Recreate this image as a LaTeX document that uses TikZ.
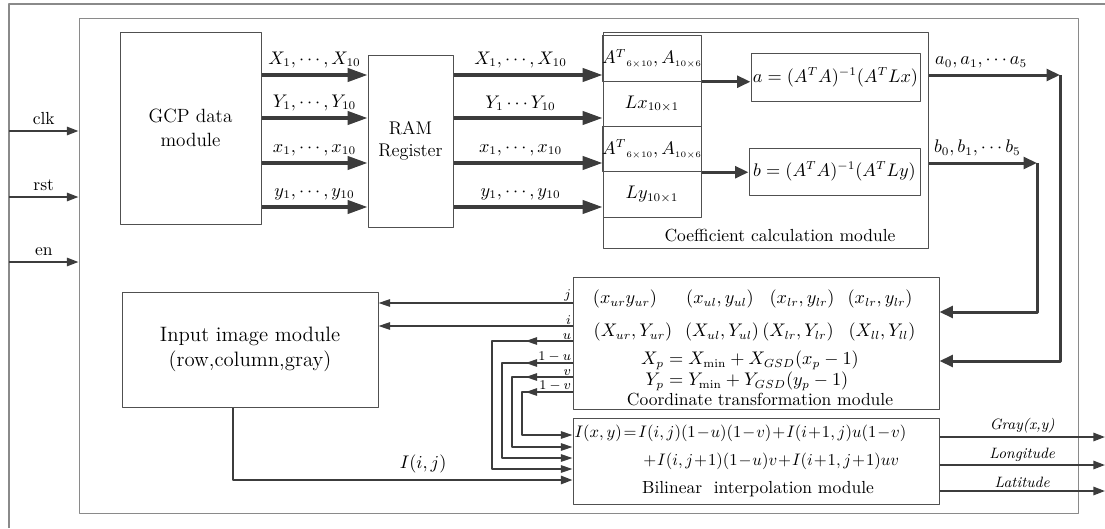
\documentclass[tikz,border=0pt]{standalone}
\usetikzlibrary{arrows.meta}
\definecolor{lc}{HTML}{3C3C3C}
\definecolor{bc}{HTML}{505050}
\definecolor{fc}{HTML}{8A8A8A}
\newcommand{\pxu}{0.6pt}
\newcommand{\tightmath}{\medmuskip=1mu\thickmuskip=2mu}

\begin{document}
\begin{tikzpicture}[x=0.6pt, y=-0.6pt, font=\fontsize{10.5}{12.5}\selectfont, line join=round,
	box/.style={draw=bc, line width=0.6pt, inner sep=0pt, align=center},
	bus/.style={draw=lc, line width=2pt, -{Triangle[length=12pt,width=8pt]}},
	busb/.style={draw=lc, line width=1.8pt, -{Triangle[length=8pt,width=7pt]}},
	sig/.style={draw=lc, line width=1.2pt, -{Triangle[length=7pt,width=5pt]}},
	wire/.style={draw=lc, line width=0.9pt, -{Triangle[length=7pt,width=4.5pt]}},
	thinwire/.style={draw=lc, line width=0.7pt, -{Triangle[length=7pt,width=4.5pt]}},
	lab/.style={inner sep=0.5pt, font=\fontsize{8.5}{9}\selectfont},
	outlab/.style={inner sep=1.5pt, font=\fontsize{9}{10}\selectfont}]
			\useasboundingbox (0,0) rectangle (1105,528);
			
			\draw[fc, line width=0.8pt] (9,528) |- (1105,4);
			\node[box, draw=fc, minimum width=999*\pxu, minimum height=495*\pxu] (sys) at (578.5,265.5) {};
			
			\coordinate (clk) at (9,131);
			\coordinate (rst) at (9,197);
			\coordinate (en) at (9,262);
			\draw[sig] (clk) -- (clk -| sys.west) node[midway, above] {clk};
			\draw[sig] (rst) -- (rst -| sys.west) node[midway, above] {rst};
			\draw[sig] (en) -- (en -| sys.west) node[midway, above] {en};
			
			\node[box, minimum width=141*\pxu, minimum height=192*\pxu, font=\fontsize{11.5}{14}\selectfont] (gcp) at (190.5,128) {GCP data\\module};
			\node[box, minimum width=85*\pxu, minimum height=172*\pxu, font=\fontsize{11}{13.5}\selectfont] (ram) at (410.5,141) {RAM\\Register};
			\node[box, minimum width=325*\pxu, minimum height=216*\pxu] (coef) at (765.5,140) {};
			\node (coefl) at (780,236) {Coefficient calculation module};
			
			\node[box, minimum width=98*\pxu, minimum height=45.25*\pxu] (m1) at (652,58.6) {$A^{T}{}_{\scriptscriptstyle 6\times 10},A_{\scriptscriptstyle 10\times 6}$};
			\node[box, minimum width=98*\pxu, minimum height=45.25*\pxu] (m2) at (652,103.9) {$Lx_{10\times 1}$};
			\node[box, minimum width=98*\pxu, minimum height=45.25*\pxu] (m3) at (652,149.1) {$A^{T}{}_{\scriptscriptstyle 6\times 10},A_{\scriptscriptstyle 10\times 6}$};
			\node[box, minimum width=98*\pxu, minimum height=45.25*\pxu] (m4) at (652,194.4) {$Ly_{10\times 1}$};
			\node[box, minimum width=169*\pxu, minimum height=48*\pxu] (abox) at (835.5,77) {$a=(A^TA)^{-1}(A^TLx)$};
			\node[box, minimum width=171*\pxu, minimum height=47*\pxu] (bbox) at (834.5,171.5) {$b=(A^TA)^{-1}(A^TLy)$};
			
			\draw[bus] (gcp.east |- 0,75) -- (ram.west |- 0,75) node[midway, above] {$X_1,\cdots,X_{10}$};
			\draw[bus] (gcp.east |- 0,118) -- (ram.west |- 0,118) node[midway, above] {$Y_1,\cdots,Y_{10}$};
			\draw[bus] (gcp.east |- 0,163) -- (ram.west |- 0,163) node[midway, above] {$x_1,\cdots,x_{10}$};
			\draw[bus] (gcp.east |- 0,207) -- (ram.west |- 0,207) node[midway, above] {$y_1,\cdots,y_{10}$};
			\draw[bus] (ram.east |- 0,75) -- (coef.west |- 0,75) node[pos=0.45, above] {$X_1,\cdots,X_{10}$};
			\draw[bus] (ram.east |- 0,118) -- (coef.west |- 0,118) node[pos=0.45, above] {$Y_1\cdots Y_{10}$};
			\draw[bus] (ram.east |- 0,163) -- (coef.west |- 0,163) node[pos=0.45, above] {$x_1,\cdots,x_{10}$};
			\draw[bus] (ram.east |- 0,207) -- (coef.west |- 0,207) node[pos=0.45, above] {$y_1,\cdots,y_{10}$};
			
			\draw[busb] (m1.south east) -- (m1.south east -| abox.west);
			\draw[busb] (m3.south east) -- (m3.south east -| bbox.west);
			
			\node[box, minimum width=366*\pxu, minimum height=132*\pxu] (coord) at (756,343) {};
			\node (p11) at (625,299) {$(x_{ur}y_{ur})$};
			\node (p12) at (720,299) {$(x_{ul},y_{ul})$};
			\node (p13) at (802,299) {$(x_{lr},y_{lr})$};
			\node (p14) at (880,299) {$(x_{lr},y_{lr})$};
			\node (p21) at (633,332) {$(X_{ur},Y_{ur})$};
			\node (p22) at (722,332) {$(X_{ul},Y_{ul})$};
			\node (p23) at (798,332) {$(X_{lr},Y_{lr})$};
			\node (p24) at (882,332) {$(X_{ll},Y_{ll})$};
			\node[inner sep=0pt] (xp) at (750,360) {$X_p=X_{\min}+X_{GSD}(x_p-1)$};
			\node[inner sep=0pt] (yp) at (747,381) {$Y_p=Y_{\min}+Y_{GSD}(y_p-1)$};
			\node[inner sep=0pt] (coordl) at (760,400) {Coordinate transformation module};
			
			\coordinate (acor) at (1060,75);
			\coordinate (bcor) at (1037,163);
			\draw[busb] (coef.east |- acor) -- (acor) node[pos=0.4, above] {$a_0,a_1,\cdots a_5$};
			\draw[busb] (acor) |- (coord.east |- 0,361);
			\draw[busb] (coef.east |- bcor) -- (bcor) node[pos=0.45, above] {$b_0,b_1,\cdots b_5$};
			\draw[busb] (bcor) |- (coord.east |- 0,312);
			
			\node[box, minimum width=366*\pxu, minimum height=86*\pxu] (bil) at (756,461) {};
			\node[anchor=west, inner sep=1pt, font=\fontsize{10}{12}\selectfont] (eq1) at (bil.west |- 0,433) {$\tightmath I(x,y)=I(i,j)(1-u)(1-v)+I(i+1,j)u(1-v)$};
			\node[anchor=west, inner sep=0pt, font=\fontsize{10}{12}\selectfont] (eq2) at (642,461) {$\tightmath {}+I(i,j+1)(1-u)v+I(i+1,j+1)uv$};
			\node[inner sep=0pt] (bill) at (758,489) {Bilinear\ \ interpolation module};
			
			\node[box, minimum width=256*\pxu, minimum height=115*\pxu, font=\fontsize{12.5}{15}\selectfont] (inp) at (250,349.5) {Input image module\\(row,column,gray)};
			
			\draw[wire] (coord.west |- 0,303) -- (inp.east |- 0,303) node[pos=0, above left, lab] {$j$};
			\draw[wire] (coord.west |- 0,326) -- (inp.east |- 0,326) node[pos=0, above left, lab] {$i$};
			\draw[thinwire] (coord.west |- 0,341) -- ++(-47,0) node[pos=0, above left, lab] {$u$};
			\draw[thinwire] (coord.west |- 0,341) -| (492,469) -- (bil.west |- 0,469);
			\draw[thinwire] (coord.west |- 0,363) -- ++(-47,0) node[pos=0, above left, lab] {$1-u$};
			\draw[thinwire] (coord.west |- 0,363) -| (502,458) -- (bil.west |- 0,458);
			\draw[thinwire] (coord.west |- 0,377) -- ++(-47,0) node[pos=0, above left, lab] {$v$};
			\draw[thinwire] (coord.west |- 0,377) -| (512,447) -- (bil.west |- 0,447);
			\draw[thinwire] (coord.west |- 0,392) -- ++(-47,0) node[pos=0, above left, lab] {$1-v$};
			\draw[thinwire] (coord.west |- 0,392) -| (522,435) -- (bil.west |- 0,435);
			\draw[sig] (inp.south -| 233,0) |- (bil.west |- 0,480) node[pos=0.78, above] {$I(i,j)$};
			
			\coordinate (gout) at (1105,437);
			\coordinate (lonout) at (1105,465);
			\coordinate (latout) at (1105,491);
			\draw[sig] (bil.east |- gout) -- (gout) node[midway, above, outlab] {\textit{Gray(x,y)}};
			\draw[sig] (bil.east |- lonout) -- (lonout) node[midway, above, outlab] {\textit{Longitude}};
			\draw[sig] (bil.east |- latout) -- (latout) node[midway, above, outlab] {\textit{Latitude}};
		\end{tikzpicture}
\end{document}
